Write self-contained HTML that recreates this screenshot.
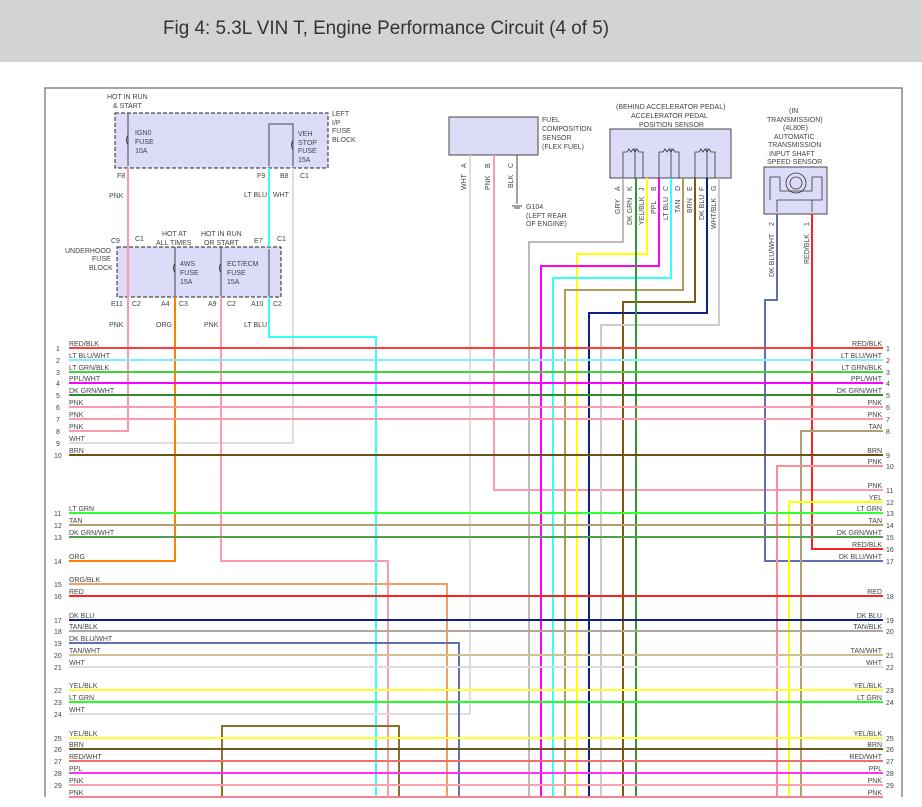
<!DOCTYPE html>
<html><head><meta charset="utf-8"><style>
html,body{margin:0;padding:0;background:#fff;width:922px;height:807px;overflow:hidden}
svg{position:absolute;left:0;top:0}
text{font-family:"Liberation Sans",sans-serif;font-size:7px;fill:#444}
.t{font-family:"Liberation Sans",sans-serif;font-size:19px;fill:#333}
</style></head><body>
<svg width="922" height="807" viewBox="0 0 922 807">
<rect x="0" y="0" width="922" height="62" fill="#d3d3d3"/>
<text class="t" x="163" y="34" textLength="446" lengthAdjust="spacingAndGlyphs">Fig 4: 5.3L VIN T, Engine Performance Circuit (4 of 5)</text>
<path d="M45 797V88H902V797" fill="none" stroke="#888" stroke-width="1.5"/>

<!-- fuse blocks -->
<rect x="115" y="113" width="213" height="55" fill="#dcdcf8" stroke="#222" stroke-dasharray="4,2"/>
<rect x="117" y="247" width="164" height="50" fill="#dcdcf8" stroke="#222" stroke-dasharray="4,2"/>
<g stroke="#444" stroke-width="1" fill="none">
<path d="M128 113V166M269 166V124H293V166M128 249V296M175 247V296M221 247V296M269 249V296"/>
<path d="M128 135q-3 5 0 10M293 140q-3 5 0 10M175 263q-3 5 0 10M221 263q-3 5 0 10"/>
</g>
<g font-size="7">
<text x="107" y="99">HOT IN RUN</text><text x="113" y="108">&amp; START</text>
<text x="135" y="135">IGN0</text><text x="135" y="144">FUSE</text><text x="135" y="153">10A</text>
<text x="298" y="136">VEH</text><text x="298" y="145">STOP</text><text x="298" y="153">FUSE</text><text x="298" y="162">15A</text>
<text x="332" y="116">LEFT</text><text x="332" y="125">I/P</text><text x="332" y="133">FUSE</text><text x="332" y="142">BLOCK</text>
<text x="117" y="178">F8</text><text x="257" y="178">F9</text><text x="280" y="178">B8</text><text x="300" y="178">C1</text>
<text x="109" y="198">PNK</text><text x="244" y="197">LT BLU</text><text x="273" y="197">WHT</text>
<text x="111" y="243">C9</text><text x="135" y="241">C1</text><text x="162" y="236">HOT AT</text><text x="156" y="245">ALL TIMES</text>
<text x="201" y="236">HOT IN RUN</text><text x="204" y="245">OR START</text><text x="254" y="243">E7</text><text x="277" y="241">C1</text>
<text x="65" y="253">UNDERHOOD</text><text x="92" y="261">FUSE</text><text x="89" y="270">BLOCK</text>
<text x="180" y="266">4WS</text><text x="180" y="275">FUSE</text><text x="180" y="284">15A</text>
<text x="227" y="266">ECT/ECM</text><text x="227" y="275">FUSE</text><text x="227" y="284">15A</text>
<text x="111" y="306">E11</text><text x="132" y="306">C2</text><text x="161" y="306">A4</text><text x="179" y="306">C3</text>
<text x="208" y="306">A9</text><text x="227" y="306">C2</text><text x="251" y="306">A10</text><text x="273" y="306">C2</text>
<text x="109" y="327">PNK</text><text x="156" y="327">ORG</text><text x="204" y="327">PNK</text><text x="244" y="327">LT BLU</text>
</g>

<!-- fuel comp sensor -->
<rect x="449" y="117" width="89" height="38" fill="#dcdcf8" stroke="#444"/>
<text x="542" y="122">FUEL</text><text x="542" y="131">COMPOSITION</text><text x="542" y="140">SENSOR</text><text x="542" y="149">(FLEX FUEL)</text>
<g font-size="6.5">
<text transform="translate(466,168) rotate(-90)">A</text><text transform="translate(490,168) rotate(-90)">B</text><text transform="translate(513,168) rotate(-90)">C</text>
<text transform="translate(466,190) rotate(-90)">WHT</text><text transform="translate(490,190) rotate(-90)">PNK</text><text transform="translate(513,188) rotate(-90)">BLK</text>
</g>
<path d="M517 155V204M512 206h10M514 208h6" stroke="#444" fill="none"/>
<text x="526" y="209">G104</text><text x="526" y="218">(LEFT REAR</text><text x="526" y="226">OF ENGINE)</text>

<!-- APP sensor -->
<rect x="610" y="129" width="121" height="49" fill="#dcdcf8" stroke="#444"/>
<text x="616" y="109">(BEHIND ACCELERATOR PEDAL)</text><text x="631" y="118">ACCELERATOR PEDAL</text><text x="639" y="127">POSITION SENSOR</text>
<g stroke="#333" fill="none" stroke-width="0.8">
<path d="M623 178V152h4l2-3 2 3 2-3 2 3 2-3 2 3h4v26M635 178V148M659 178V152h4l2-3 2 3 2-3 2 3 2-3 2 3h4v26M671 178V148M695 178V152h4l2-3 2 3 2-3 2 3 2-3 2 3h4v26M707 178V148"/>
</g>
<g font-size="6.5">
<text transform="translate(620,191) rotate(-90)">A</text><text transform="translate(632,191) rotate(-90)">K</text><text transform="translate(644,191) rotate(-90)">J</text><text transform="translate(656,191) rotate(-90)">B</text><text transform="translate(668,191) rotate(-90)">C</text><text transform="translate(680,191) rotate(-90)">D</text><text transform="translate(692,191) rotate(-90)">E</text><text transform="translate(704,191) rotate(-90)">F</text><text transform="translate(716,191) rotate(-90)">G</text>
<text transform="translate(620,214) rotate(-90)">GRY</text><text transform="translate(632,225) rotate(-90)">DK GRN</text><text transform="translate(644,225) rotate(-90)">YEL/BLK</text><text transform="translate(656,214) rotate(-90)">PPL</text><text transform="translate(668,220) rotate(-90)">LT BLU</text><text transform="translate(680,213) rotate(-90)">TAN</text><text transform="translate(692,213) rotate(-90)">BRN</text><text transform="translate(704,220) rotate(-90)">DK BLU</text><text transform="translate(716,229) rotate(-90)">WHT/BLK</text>
</g>

<!-- speed sensor -->
<text x="789" y="113">(IN</text><text x="767" y="122">TRANSMISSION)</text><text x="783" y="130">(4L80E)</text><text x="774" y="139">AUTOMATIC</text><text x="768" y="147">TRANSMISSION</text><text x="769" y="156">INPUT SHAFT</text><text x="767" y="164">SPEED SENSOR</text>
<rect x="764" y="167" width="63" height="47" fill="#dcdcf8" stroke="#444"/>
<g stroke="#333" fill="none" stroke-width="0.8">
<circle cx="796" cy="183" r="10"/><circle cx="796" cy="183" r="6"/>
<path d="M770 200V177h10v14h32V177h10v23h-45M777 200v12M812 200v12"/>
</g>
<g font-size="6.5">
<text transform="translate(774,226) rotate(-90)">2</text><text transform="translate(809,226) rotate(-90)">1</text>
<text transform="translate(774,277) rotate(-90)">DK BLU/WHT</text><text transform="translate(809,264) rotate(-90)">RED/BLK</text>
</g>

<g fill="none" stroke-width="2">
<!-- vertical connections -->
<path d="M128 168V431H69" stroke="#ff9aaa"/>
<path d="M269 168V247" stroke="#33ffff"/>
<path d="M293 168V443H69" stroke="#dddddd"/>
<path d="M175 297V561H69" stroke="#ff8000"/>
<path d="M221 297V561H388V797" stroke="#ff9aaa"/>
<path d="M269 297V337H376V797" stroke="#33ffff"/>
<path d="M470 155V714H69" stroke="#dddddd"/>
<path d="M494 155V490H883" stroke="#ff9aaa"/>
<path d="M623 178V242H529V797" stroke="#bbbbbb"/>
<path d="M647 178V254H577V797" stroke="#ffff00"/>
<path d="M659 178V266H541V797" stroke="#ff00ff"/>
<path d="M671 178V278H553V797" stroke="#33ffff"/>
<path d="M683 178V290H565V797" stroke="#b09a60"/>
<path d="M695 178V302H623V797" stroke="#7a5a10"/>
<path d="M707 178V313H589V797" stroke="#102080"/>
<path d="M719 178V325H601V797" stroke="#cccccc"/>
<path d="M636 178V797" stroke="#2e9b2e"/>
<path d="M777 214V300H765V561H883" stroke="#6070b0"/>
<path d="M812 214V549H883" stroke="#ff2020"/>
<path d="M883 431H801V797" stroke="#b0a070"/>
<path d="M883 466H777V797" stroke="#ff8a9a"/>
<path d="M883 502H789V797" stroke="#ffff00"/>
<path d="M69 584H447V797" stroke="#f0a060"/>
<path d="M69 643H459V797" stroke="#6070b0"/>
<path d="M222 797V726H399V797" stroke="#8b6f2a"/>
<!-- buses -->
<path d="M69 348H883" stroke="#ff3b3b"/>
<path d="M69 360H883" stroke="#7ff0ff"/>
<path d="M69 372H883" stroke="#40d040"/>
<path d="M69 383H883" stroke="#ff00ff"/>
<path d="M69 395H883" stroke="#2e8b2e"/>
<path d="M69 407H883" stroke="#ff9aaa"/>
<path d="M69 419H883" stroke="#ff9aaa"/>
<path d="M69 455H883" stroke="#6b5010"/>
<path d="M69 513H883" stroke="#33ff33"/>
<path d="M69 525H883" stroke="#b0a070"/>
<path d="M69 537H883" stroke="#50a050"/>
<path d="M69 596H883" stroke="#ff2020"/>
<path d="M69 620H883" stroke="#102080"/>
<path d="M69 631H883" stroke="#b0a890"/>
<path d="M69 655H883" stroke="#d0c090"/>
<path d="M69 667H883" stroke="#dddddd"/>
<path d="M69 690H883" stroke="#ffff30"/>
<path d="M69 702H883" stroke="#22ff22"/>
<path d="M69 738H883" stroke="#ffff30"/>
<path d="M69 749H883" stroke="#6b5520"/>
<path d="M69 761H883" stroke="#f07070"/>
<path d="M69 773H883" stroke="#ff33ff"/>
<path d="M69 785H883" stroke="#ffa0b0"/>
<path d="M69 797H883" stroke="#ff8090"/>
</g>

<!-- left labels -->
<g>
<text x="69" y="346">RED/BLK</text><text x="56" y="351">1</text>
<text x="69" y="358">LT BLU/WHT</text><text x="56" y="363">2</text>
<text x="69" y="370">LT GRN/BLK</text><text x="56" y="375">3</text>
<text x="69" y="381">PPL/WHT</text><text x="56" y="386">4</text>
<text x="69" y="393">DK GRN/WHT</text><text x="56" y="398">5</text>
<text x="69" y="405">PNK</text><text x="56" y="410">6</text>
<text x="69" y="417">PNK</text><text x="56" y="422">7</text>
<text x="69" y="429">PNK</text><text x="56" y="434">8</text>
<text x="69" y="441">WHT</text><text x="56" y="446">9</text>
<text x="69" y="453">BRN</text><text x="54" y="458">10</text>
<text x="69" y="511">LT GRN</text><text x="54" y="516">11</text>
<text x="69" y="523">TAN</text><text x="54" y="528">12</text>
<text x="69" y="535">DK GRN/WHT</text><text x="54" y="540">13</text>
<text x="69" y="559">ORG</text><text x="54" y="564">14</text>
<text x="69" y="582">ORG/BLK</text><text x="54" y="587">15</text>
<text x="69" y="594">RED</text><text x="54" y="599">16</text>
<text x="69" y="618">DK BLU</text><text x="54" y="623">17</text>
<text x="69" y="629">TAN/BLK</text><text x="54" y="634">18</text>
<text x="69" y="641">DK BLU/WHT</text><text x="54" y="646">19</text>
<text x="69" y="653">TAN/WHT</text><text x="54" y="658">20</text>
<text x="69" y="665">WHT</text><text x="54" y="670">21</text>
<text x="69" y="688">YEL/BLK</text><text x="54" y="693">22</text>
<text x="69" y="700">LT GRN</text><text x="54" y="705">23</text>
<text x="69" y="712">WHT</text><text x="54" y="717">24</text>
<text x="69" y="736">YEL/BLK</text><text x="54" y="741">25</text>
<text x="69" y="747">BRN</text><text x="54" y="752">26</text>
<text x="69" y="759">RED/WHT</text><text x="54" y="764">27</text>
<text x="69" y="771">PPL</text><text x="54" y="776">28</text>
<text x="69" y="783">PNK</text><text x="54" y="788">29</text>
<text x="69" y="795">PNK</text>
</g>
<!-- right labels -->
<g text-anchor="end">
<text x="882" y="346">RED/BLK</text><text x="882" y="358">LT BLU/WHT</text><text x="882" y="370">LT GRN/BLK</text><text x="882" y="381">PPL/WHT</text><text x="882" y="393">DK GRN/WHT</text><text x="882" y="405">PNK</text><text x="882" y="417">PNK</text><text x="882" y="429">TAN</text><text x="882" y="453">BRN</text><text x="882" y="464">PNK</text><text x="882" y="488">PNK</text><text x="882" y="500">YEL</text><text x="882" y="511">LT GRN</text><text x="882" y="523">TAN</text><text x="882" y="535">DK GRN/WHT</text><text x="882" y="547">RED/BLK</text><text x="882" y="559">DK BLU/WHT</text><text x="882" y="594">RED</text><text x="882" y="618">DK BLU</text><text x="882" y="629">TAN/BLK</text><text x="882" y="653">TAN/WHT</text><text x="882" y="665">WHT</text><text x="882" y="688">YEL/BLK</text><text x="882" y="700">LT GRN</text><text x="882" y="736">YEL/BLK</text><text x="882" y="747">BRN</text><text x="882" y="759">RED/WHT</text><text x="882" y="771">PPL</text><text x="882" y="783">PNK</text><text x="882" y="795">PNK</text>
</g>
<g>
<text x="886" y="351">1</text><text x="886" y="363">2</text><text x="886" y="375">3</text><text x="886" y="386">4</text><text x="886" y="398">5</text><text x="886" y="410">6</text><text x="886" y="422">7</text><text x="886" y="434">8</text><text x="886" y="458">9</text><text x="886" y="469">10</text><text x="886" y="493">11</text><text x="886" y="505">12</text><text x="886" y="516">13</text><text x="886" y="528">14</text><text x="886" y="540">15</text><text x="886" y="552">16</text><text x="886" y="564">17</text><text x="886" y="599">18</text><text x="886" y="623">19</text><text x="886" y="634">20</text><text x="886" y="658">21</text><text x="886" y="670">22</text><text x="886" y="693">23</text><text x="886" y="705">24</text><text x="886" y="741">25</text><text x="886" y="752">26</text><text x="886" y="764">27</text><text x="886" y="776">28</text><text x="886" y="788">29</text>
</g>
<rect x="0" y="798" width="922" height="9" fill="#fff"/>
</svg>
</body></html>
